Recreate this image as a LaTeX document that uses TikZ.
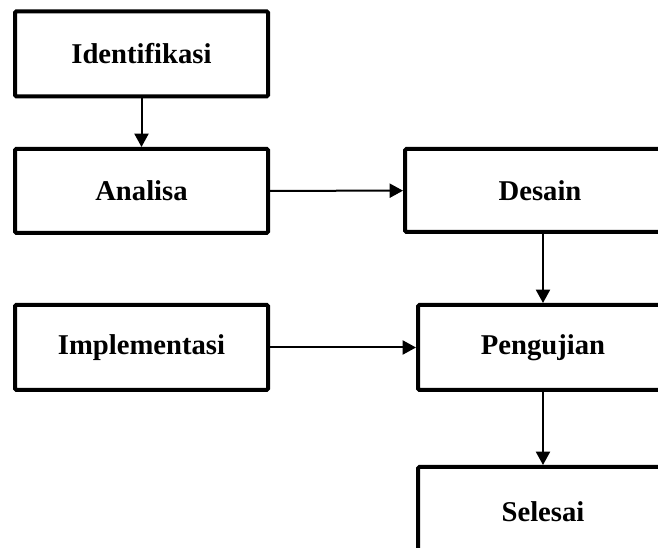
\documentclass[tikz,border=0pt]{standalone}
\usepackage{fontspec}
\setmainfont{Liberation Serif}
\usetikzlibrary{arrows.meta}
\begin{document}
\begin{tikzpicture}[x=0.75pt,y=-0.75pt]
\tikzset{blok/.style={draw,line width=3pt,rounded corners=1pt,minimum width=189.75pt,minimum height=63.75pt,font=\fontsize{21.5}{26}\selectfont\bfseries}}
\tikzset{panah/.style={line width=1.5pt,-{Triangle[length=10pt,width=10.5pt]}}}
\useasboundingbox (0,0) rectangle (658,548);
\clip (0,0) rectangle (658,548);
\node[blok] (iden) at (141.5,54) {Identifikasi};
\node[blok,minimum height=63pt] (anal) at (141.5,191) {Analisa};
\node[blok,minimum width=202.5pt,minimum height=62.25pt] (desa) at (540,190.5) {Desain};
\node[blok] (impl) at (141.5,347.5) {Implementasi};
\node[blok,minimum width=187.5pt] (peng) at (543,347.5) {Pengujian};
\node[blok,minimum width=187.5pt,minimum height=67.5pt] (sele) at (543,512) {Selesai};
\draw[panah] (iden) -- (anal);
\draw[panah] (anal) -- (desa);
\draw[panah] (desa.south -| peng) -- (peng);
\draw[panah] (impl) -- (peng);
\draw[panah] (peng) -- (sele);
\end{tikzpicture}
\end{document}
